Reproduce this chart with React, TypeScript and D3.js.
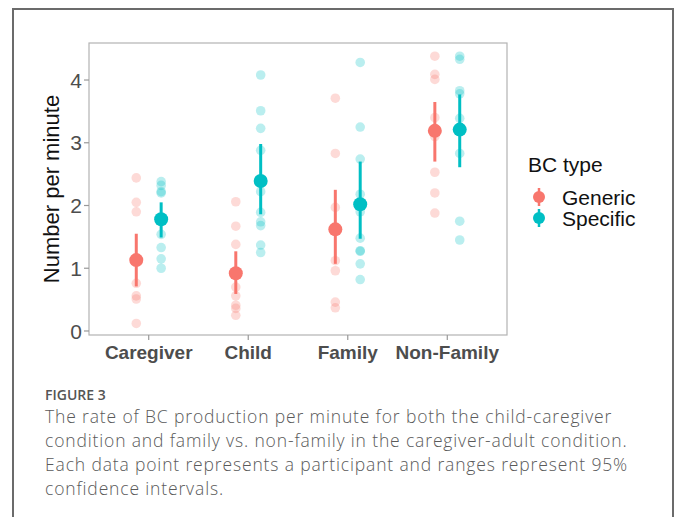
import React from 'react';
import * as d3 from 'd3';

const categories = ['Caregiver', 'Child', 'Family', 'Non-Family'];
const bcTypes = ['Generic', 'Specific'];
const typeColors = ['#F8766D', '#00BFC4'];

// participant rates, [category][type]
const genericPoints = [
  [2.44, 2.05, 1.9, 1.13, 0.76, 0.56, 0.51, 0.12],
  [2.06, 1.67, 1.38, 0.92, 0.7, 0.56, 0.41, 0.36, 0.25],
  [3.71, 2.83, 1.97, 1.12, 0.96, 0.46, 0.37],
  [4.38, 4.09, 4.01, 3.4, 3.1, 2.53, 2.2, 1.88],
];
const specificPoints = [
  [2.38, 2.32, 2.22, 2.2, 1.54, 1.33, 1.15, 1.0],
  [4.08, 3.51, 3.23, 2.88, 2.22, 1.89, 1.74, 1.68, 1.37, 1.25],
  [4.28, 3.25, 2.74, 2.18, 1.9, 1.48, 1.28, 1.27, 1.07, 0.82],
  [4.38, 4.33, 3.83, 3.78, 3.39, 2.83, 1.75, 1.45],
];
const genericMean = [1.13, 0.92, 1.62, 3.19];
const genericLow = [0.71, 0.59, 1.07, 2.7];
const genericHigh = [1.55, 1.27, 2.25, 3.65];
const specificMean = [1.78, 2.39, 2.02, 3.21];
const specificLow = [1.49, 1.86, 1.47, 2.61];
const specificHigh = [2.05, 2.98, 2.7, 3.77];
const yTicks = [0, 1, 2, 3, 4];

const captionLines = [
  'The rate of BC production per minute for both the child-caregiver',
  'condition and family vs. non-family in the caregiver-adult condition.',
  'Each data point represents a participant and ranges represent 95%',
  'confidence intervals.',
];

export default function App() {
  const W = 677;
  const H = 517;
  const panel = { left: 89, right: 507, top: 43, bottom: 335 };

  const x = d3.scalePoint<string>().domain(categories).range([panel.left, panel.right]).padding(0.6);
  const dodge = x.step() * 0.125;
  const y = d3.scaleLinear().domain([-0.064, 4.59]).range([panel.bottom, panel.top]);

  const series = [
    { pts: genericPoints, mean: genericMean, low: genericLow, high: genericHigh, off: -dodge },
    { pts: specificPoints, mean: specificMean, low: specificLow, high: specificHigh, off: dodge },
  ];

  const font = '"Liberation Sans", Arial, sans-serif';
  const capFont = '"Open Sans", sans-serif';

  return (
    <svg width={W} height={H} style={{ position: 'absolute', left: 0, top: 0, background: '#fff' }}>
      {/* outer figure frame */}
      <path d={`M13,${H + 5}V9H673V${H + 5}`} fill="none" stroke="#6b6b6b" strokeWidth={2} />

      {/* raw points */}
      {series.map((s, si) =>
        s.pts.map((arr, ci) =>
          arr.map((v, k) => (
            <circle key={`p${si}-${ci}-${k}`} cx={x(categories[ci])! + s.off} cy={y(v)} r={4.8}
              fill={typeColors[si]} fillOpacity={0.27} />
          ))
        )
      )}

      {/* ranges + means */}
      {series.map((s, si) =>
        categories.map((c, ci) => (
          <g key={`m${si}-${ci}`}>
            <line x1={x(c)! + s.off} x2={x(c)! + s.off} y1={y(s.low[ci])} y2={y(s.high[ci])}
              stroke={typeColors[si]} strokeWidth={3} />
            <circle cx={x(c)! + s.off} cy={y(s.mean[ci])} r={7} fill={typeColors[si]} />
          </g>
        ))
      )}

      {/* panel border */}
      <rect x={panel.left} y={panel.top} width={panel.right - panel.left} height={panel.bottom - panel.top}
        fill="none" stroke="#b3b3b3" strokeWidth={1.2} />

      {/* y axis */}
      {yTicks.map(t => (
        <g key={`yt${t}`}>
          <line x1={panel.left - 5} x2={panel.left} y1={y(t)} y2={y(t)} stroke="#999" strokeWidth={1.2} />
          <text x={panel.left - 7} y={y(t)} dy="0.36em" textAnchor="end" fontFamily={font} fontSize={21}
            fill="#4d4d4d">{t}</text>
        </g>
      ))}
      <text transform={`translate(59,${(panel.top + panel.bottom) / 2}) rotate(-90)`} textAnchor="middle"
        fontFamily={font} fontSize={22} fill="#111">Number per minute</text>

      {/* x axis */}
      {categories.map(c => (
        <g key={`xt${c}`}>
          <line x1={x(c)} x2={x(c)} y1={panel.bottom} y2={panel.bottom + 5} stroke="#999" strokeWidth={1.2} />
          <text x={x(c)} y={panel.bottom + 24} textAnchor="middle" fontFamily={font} fontSize={19}
            fontWeight="bold" fill="#4d4d4d">{c}</text>
        </g>
      ))}

      {/* legend */}
      <text x={528} y={172} fontFamily={font} fontSize={21} fill="#111">BC type</text>
      {bcTypes.map((b, i) => (
        <g key={`lg${b}`} transform={`translate(539,${197 + i * 21})`}>
          <line x1={0} x2={0} y1={-9} y2={9} stroke={typeColors[i]} strokeWidth={2.5} />
          <circle r={6} fill={typeColors[i]} />
          <text x={23} y={0} dy="0.36em" fontFamily={font} fontSize={21} fill="#111">{b}</text>
        </g>
      ))}

      {/* caption */}
      <text x={45} y={400} fontFamily={capFont} fontSize={14} fontWeight={600} fill="#555">FIGURE 3</text>
      {captionLines.map((l, i) => (
        <text key={`cap${i}`} x={45} y={423 + i * 24} fontFamily={capFont} fontSize={17.5} fontWeight={300}
          letterSpacing={0.85} fill="#5a5a5a">{l}</text>
      ))}
    </svg>
  );
}
